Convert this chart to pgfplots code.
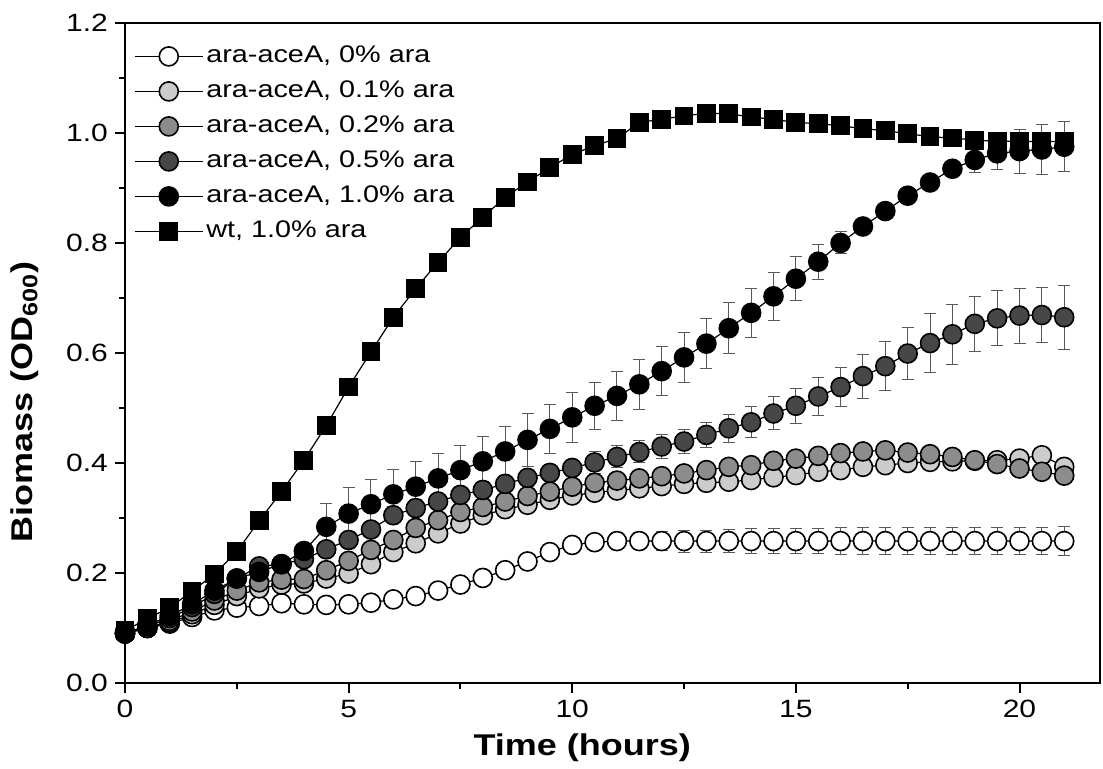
\documentclass[border=0pt]{standalone}
\usepackage{fontspec}
\setmainfont{Liberation Sans}[FakeStretch=1.2]
\usepackage{pgfplots}
\pgfplotsset{compat=1.18}
\usepackage{pgfplotstable}

\definecolor{gA}{gray}{0.80}
\definecolor{gB}{gray}{0.55}
\definecolor{gC}{gray}{0.28}
\definecolor{ebar}{gray}{0.35}

% 0% ara
\pgfplotstableread{
t y e
0 0.093 0.005
0.5 0.100 0.006
1 0.108 0.008
1.5 0.120 0.010
2 0.132 0.010
2.5 0.137 0.010
3 0.140 0.010
3.5 0.145 0.010
4 0.143 0.010
4.5 0.142 0.010
5 0.143 0.010
5.5 0.146 0.010
6 0.152 0.012
6.5 0.158 0.012
7 0.168 0.010
7.5 0.179 0.008
8 0.191 0.008
8.5 0.205 0.008
9 0.221 0.008
9.5 0.238 0.008
10 0.251 0.010
10.5 0.256 0.012
11 0.258 0.015
11.5 0.258 0.016
12 0.258 0.018
12.5 0.258 0.020
13 0.258 0.020
13.5 0.258 0.021
14 0.258 0.022
14.5 0.258 0.022
15 0.258 0.023
15.5 0.258 0.023
16 0.258 0.024
16.5 0.258 0.024
17 0.258 0.024
17.5 0.258 0.024
18 0.258 0.025
18.5 0.258 0.025
19 0.258 0.025
19.5 0.258 0.025
20 0.258 0.025
20.5 0.258 0.025
21 0.258 0.026
}\tA

% 0.1% ara
\pgfplotstableread{
t y e
0 0.090 0.005
0.5 0.100 0.005
1 0.110 0.006
1.5 0.125 0.008
2 0.142 0.008
2.5 0.158 0.010
3 0.172 0.010
3.5 0.179 0.010
4 0.181 0.010
4.5 0.190 0.010
5 0.199 0.010
5.5 0.216 0.010
6 0.238 0.010
6.5 0.254 0.010
7 0.272 0.010
7.5 0.290 0.010
8 0.305 0.010
8.5 0.316 0.010
9 0.324 0.010
9.5 0.333 0.010
10 0.341 0.010
10.5 0.346 0.010
11 0.350 0.010
11.5 0.354 0.010
12 0.358 0.010
12.5 0.362 0.010
13 0.364 0.010
13.5 0.366 0.010
14 0.369 0.010
14.5 0.374 0.010
15 0.378 0.010
15.5 0.384 0.010
16 0.387 0.010
16.5 0.393 0.010
17 0.396 0.010
17.5 0.400 0.010
18 0.402 0.010
18.5 0.403 0.010
19 0.404 0.010
19.5 0.405 0.010
20 0.408 0.010
20.5 0.414 0.010
21 0.393 0.010
}\tB

% 0.2% ara
\pgfplotstableread{
t y e
0 0.090 0.005
0.5 0.100 0.005
1 0.113 0.006
1.5 0.130 0.008
2 0.150 0.008
2.5 0.168 0.010
3 0.183 0.010
3.5 0.188 0.012
4 0.189 0.012
4.5 0.205 0.012
5 0.222 0.012
5.5 0.242 0.012
6 0.260 0.012
6.5 0.282 0.012
7 0.296 0.012
7.5 0.311 0.012
8 0.320 0.012
8.5 0.330 0.012
9 0.340 0.012
9.5 0.348 0.012
10 0.357 0.012
10.5 0.364 0.012
11 0.368 0.012
11.5 0.372 0.012
12 0.376 0.012
12.5 0.381 0.012
13 0.387 0.012
13.5 0.393 0.012
14 0.396 0.012
14.5 0.404 0.012
15 0.408 0.012
15.5 0.413 0.012
16 0.418 0.012
16.5 0.421 0.012
17 0.423 0.012
17.5 0.419 0.012
18 0.416 0.012
18.5 0.411 0.012
19 0.405 0.012
19.5 0.398 0.012
20 0.390 0.012
20.5 0.384 0.012
21 0.377 0.012
}\tC

% 0.5% ara
\pgfplotstableread{
t y e
0 0.090 0.005
0.5 0.103 0.005
1 0.118 0.006
1.5 0.138 0.008
2 0.162 0.008
2.5 0.190 0.010
3 0.212 0.010
3.5 0.216 0.012
4 0.225 0.012
4.5 0.243 0.015
5 0.260 0.015
5.5 0.279 0.015
6 0.305 0.015
6.5 0.318 0.015
7 0.330 0.015
7.5 0.342 0.015
8 0.351 0.015
8.5 0.362 0.015
9 0.373 0.015
9.5 0.382 0.015
10 0.391 0.015
10.5 0.401 0.020
11 0.411 0.020
11.5 0.420 0.020
12 0.430 0.022
12.5 0.439 0.022
13 0.451 0.022
13.5 0.463 0.025
14 0.474 0.028
14.5 0.490 0.030
15 0.504 0.032
15.5 0.521 0.034
16 0.538 0.035
16.5 0.558 0.040
17 0.576 0.045
17.5 0.599 0.048
18 0.618 0.054
18.5 0.634 0.055
19 0.653 0.050
19.5 0.663 0.050
20 0.668 0.050
20.5 0.669 0.050
21 0.665 0.058
}\tD

% 1.0% ara
\pgfplotstableread{
t y e
0 0.090 0.005
0.5 0.105 0.005
1 0.122 0.006
1.5 0.143 0.008
2 0.168 0.008
2.5 0.190 0.010
3 0.202 0.010
3.5 0.216 0.010
4 0.240 0.012
4.5 0.284 0.043
5 0.308 0.048
5.5 0.325 0.045
6 0.343 0.045
6.5 0.357 0.045
7 0.372 0.045
7.5 0.387 0.045
8 0.403 0.045
8.5 0.421 0.046
9 0.442 0.048
9.5 0.462 0.045
10 0.483 0.045
10.5 0.504 0.043
11 0.522 0.045
11.5 0.543 0.045
12 0.567 0.045
12.5 0.592 0.045
13 0.617 0.045
13.5 0.645 0.046
14 0.673 0.044
14.5 0.703 0.044
15 0.735 0.040
15.5 0.766 0.032
16 0.800 0.020
16.5 0.830 0.010
17 0.858 0.010
17.5 0.886 0.010
18 0.910 0.010
18.5 0.935 0.010
19 0.951 0.022
19.5 0.963 0.030
20 0.967 0.040
20.5 0.970 0.045
21 0.975 0.045
}\tE

% wt, 1.0% ara
\pgfplotstableread{
t y
0 0.095
0.5 0.117
1 0.137
1.5 0.167
2 0.198
2.5 0.239
3 0.295
3.5 0.348
4 0.405
4.5 0.468
5 0.538
5.5 0.602
6 0.665
6.5 0.717
7 0.765
7.5 0.810
8 0.847
8.5 0.883
9 0.911
9.5 0.937
10 0.961
10.5 0.977
11 0.990
11.5 1.019
12 1.025
12.5 1.031
13 1.036
13.5 1.035
14 1.029
14.5 1.025
15 1.019
15.5 1.017
16 1.013
16.5 1.008
17 1.004
17.5 0.999
18 0.993
18.5 0.991
19 0.987
19.5 0.985
20 0.985
20.5 0.984
21 0.985
}\tF

\begin{document}
\begin{tikzpicture}
\begin{axis}[name=ax,
  width=487.5pt, height=330pt, scale only axis,
  xmin=0, xmax=21.8, ymin=0, ymax=1.2,
  xtick={0,5,...,20}, ytick={0,0.2,0.4,0.6,0.8,1.0,1.2},
  minor x tick num=1, minor y tick num=1,
  tick pos=left, tick align=outside,
  major tick length=5pt, minor tick length=3pt,
  axis line style={line width=1pt},
  every tick/.style={black, line width=1pt},
  /pgf/number format/assume math mode=true,
  yticklabel style={/pgf/number format/.cd, fixed, fixed zerofill, precision=1},
  tick label style={font=\fontsize{12.5}{14}\selectfont},
  xlabel={Time (hours)},
  ylabel={Biomass (OD\textsubscript{600})},
  label style={font=\fontsize{15}{18}\selectfont\bfseries},
  xlabel style={at={(axis description cs:0.469,-0.0985)}, anchor=center},
  ylabel style={at={(axis description cs:-0.1026,0.426)}, anchor=center},
  legend cell align=left,
  legend image code/.code={\draw[mark repeat=2,mark phase=2] plot coordinates {(0pt,0pt) (17pt,0pt) (34pt,0pt)};},
  legend style={at={(axis description cs:0.009,0.9674)}, anchor=north west,
    draw=none, fill=none, font=\fontsize{12}{14}\selectfont,
    row sep=6pt, inner sep=0pt,
    nodes={font=\fontsize{12}{14}\selectfont, inner xsep=1.5pt, inner ysep=0pt, text height=9pt, text depth=2.5pt}},
  every axis plot/.append style={black, line width=0.6pt},
  error bars/error bar style={ebar, line width=0.5pt, solid},
  error bars/error mark options={rotate=90, mark size=3pt, ebar, line width=0.5pt, solid},
]
\addplot[mark=*, mark size=4.75pt, mark options={fill=white, draw=black, line width=0.8pt, solid},
  error bars/.cd, y dir=both, y explicit] table[x=t, y=y, y error=e] {\tA};
\addlegendentry{\fontsize{12}{14}\selectfont ara-aceA, 0\% ara}
\addplot[mark=*, mark size=4.75pt, mark options={fill=gA, draw=black, line width=0.8pt, solid},
  error bars/.cd, y dir=both, y explicit] table[x=t, y=y, y error=e] {\tB};
\addlegendentry{\fontsize{12}{14}\selectfont ara-aceA, 0.1\% ara}
\addplot[mark=*, mark size=4.75pt, mark options={fill=gB, draw=black, line width=0.8pt, solid},
  error bars/.cd, y dir=both, y explicit] table[x=t, y=y, y error=e] {\tC};
\addlegendentry{\fontsize{12}{14}\selectfont ara-aceA, 0.2\% ara}
\addplot[mark=*, mark size=4.75pt, mark options={fill=gC, draw=black, line width=0.8pt, solid},
  error bars/.cd, y dir=both, y explicit] table[x=t, y=y, y error=e] {\tD};
\addlegendentry{\fontsize{12}{14}\selectfont ara-aceA, 0.5\% ara}
\addplot[mark=*, mark size=4.75pt, mark options={fill=black, draw=black, line width=0.8pt, solid},
  error bars/.cd, y dir=both, y explicit] table[x=t, y=y, y error=e] {\tE};
\addlegendentry{\fontsize{12}{14}\selectfont ara-aceA, 1.0\% ara}
\addplot[mark=square*, mark size=4.4pt, mark options={fill=black, draw=black, solid}]
  table[x=t, y=y] {\tF};
\addlegendentry{\fontsize{12}{14}\selectfont wt, 1.0\% ara}
\end{axis}
\pgfresetboundingbox
\path ([xshift=-62.5pt,yshift=-43pt]ax.south west) rectangle ([xshift=1.5pt,yshift=11.5pt]ax.north east);
\end{tikzpicture}
\end{document}
